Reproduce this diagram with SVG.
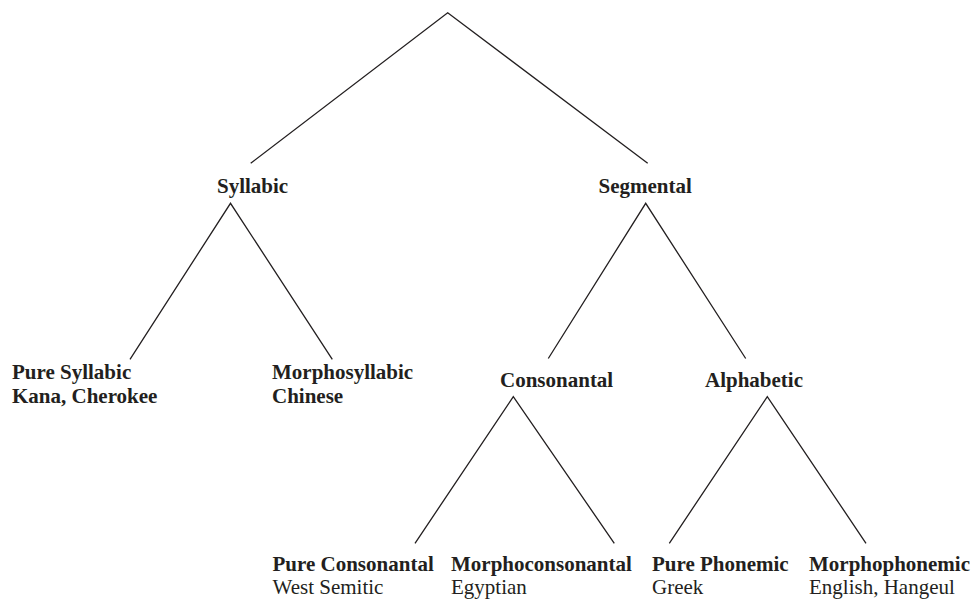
<svg xmlns="http://www.w3.org/2000/svg" width="975" height="599" viewBox="0 0 975 599">
<style>
text{font-family:"Liberation Serif","Times New Roman",serif;font-size:21px;fill:#231f20}
.b{font-weight:bold}
.e{stroke:#231f20;stroke-width:1.3;fill:none}
</style>
<rect width="975" height="599" fill="#fff"/>
<g id="connectors">
<polyline class="e" points="250.7,163.3 447.7,12.7 647.7,163.3"/>
<polyline class="e" points="130,359.3 230.5,203.3 332.3,359.3"/>
<polyline class="e" points="548.3,358.5 645.7,203.3 745.7,358.5"/>
<polyline class="e" points="415,543.3 513.3,396.7 614.3,543.3"/>
<polyline class="e" points="669.3,543.3 767.3,396.7 866,543.3"/>
</g>
<g id="syllabic"><text class="b" x="217" y="193">Syllabic</text></g>
<g id="segmental"><text class="b" x="598.5" y="193">Segmental</text></g>
<g id="pure-syllabic"><text class="b" x="12" y="379">Pure Syllabic</text><text class="b" x="12" y="403">Kana, Cherokee</text></g>
<g id="morphosyllabic"><text class="b" x="272" y="379">Morphosyllabic</text><text class="b" x="272" y="403">Chinese</text></g>
<g id="consonantal"><text class="b" x="500" y="387">Consonantal</text></g>
<g id="alphabetic"><text class="b" x="705" y="387">Alphabetic</text></g>
<g id="pure-consonantal"><text class="b" x="272.5" y="571">Pure Consonantal</text><text x="272.5" y="594">West Semitic</text></g>
<g id="morphoconsonantal"><text class="b" x="451" y="571">Morphoconsonantal</text><text x="451" y="594">Egyptian</text></g>
<g id="pure-phonemic"><text class="b" x="652" y="571">Pure Phonemic</text><text x="652" y="594">Greek</text></g>
<g id="morphophonemic"><text class="b" x="809" y="571">Morphophonemic</text><text x="809" y="594">English, Hangeul</text></g>
</svg>
